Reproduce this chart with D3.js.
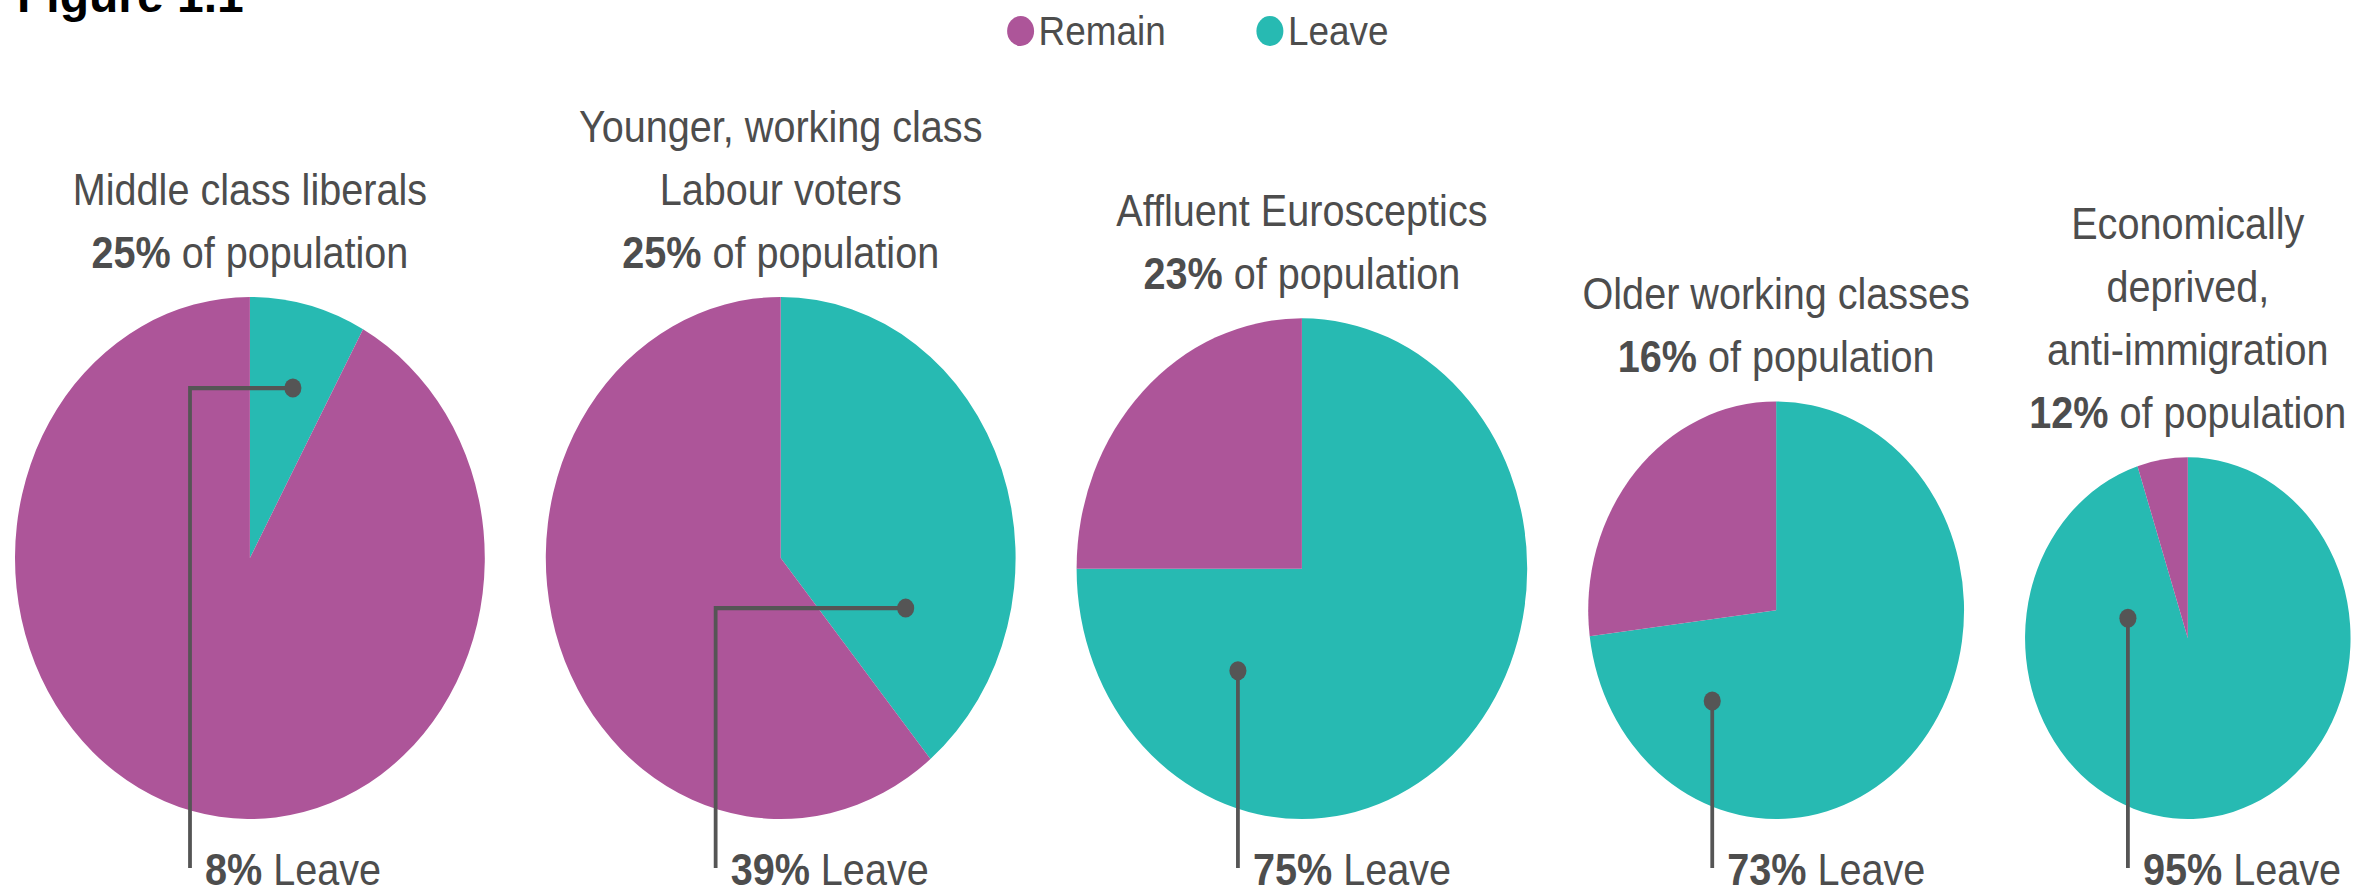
<!DOCTYPE html>
<meta charset="utf-8">
<title>EU referendum segments</title>
<style>
body { margin: 0; background: #fff; }
text { font-family: "Liberation Sans", Arial, Helvetica, sans-serif; fill: #4d4d4d; }
.leader { fill: none; stroke: #555; stroke-width: 4.2px; }
</style>
<script src="https://d3js.org/d3.v7.min.js"></script>
<body>
<script>
// data
var titles = [
  ["Middle class liberals"],
  ["Younger, working class", "Labour voters"],
  ["Affluent Eurosceptics"],
  ["Older working classes"],
  ["Economically", "deprived,", "anti-immigration"]
];
var population = [25, 25, 23, 16, 12];   // % of population
var leave = [8, 39, 75, 73, 95];         // % Leave
var seriesNames = ["Remain", "Leave"];

// where the leader dot sits, as a fraction of the radius (x, y, elbow x)
var dotPos = [
  [0.183, -0.651, -0.255],
  [0.532, 0.192, -0.277],
  [-0.284, 0.408, null],
  [-0.34, 0.435, null],
  [-0.368, -0.11, null]
];

var width = 2367;
var height = 893;
var sx = 0.9; // the original artwork is squeezed horizontally

var color = d3.scaleOrdinal()
    .domain(seriesNames)
    .range(["#ad5599", "#27bab2"]);

var r = d3.scaleSqrt()
    .domain([0, 25])
    .range([0, 261]);

var svg = d3.select("body").append("svg")
    .attr("width", width)
    .attr("height", height);

// figure number, cut off at the top of the page
svg.append("text")
    .attr("x", 17)
    .attr("y", 12)
    .attr("font-size", 48)
    .attr("font-weight", "bold")
    .style("fill", "#000")
    .text("Figure 1.1");

var g = svg.append("g")
    .attr("transform", "scale(" + sx + ",1)");

// legend
var legend = g.append("g").selectAll("g")
    .data(seriesNames)
  .enter().append("g")
    .attr("transform", function(d, i) { return "translate(" + (1134 + i * 277) + ",31)"; });
legend.append("circle")
    .attr("r", 15)
    .attr("fill", function(d) { return color(d); });
legend.append("text")
    .attr("x", 20)
    .attr("y", 14)
    .attr("font-size", 41)
    .text(function(d) { return d; });

// pies sit on a common baseline, spaced by a constant gap
var baseY = 819;
var gap = 61 / sx;
var xPos = 15 / sx;
var centers = population.map(function(p) {
  var c = xPos + r(p);
  xPos += 2 * r(p) + gap;
  return c;
});

var pie = d3.pie().sort(null).value(function(d) { return d.value; });

var groups = g.selectAll("g.seg")
    .data(population.map(function(p, i) {
      return { title: titles[i], pop: p, leave: leave[i], cx: centers[i], rad: r(p), dot: dotPos[i] };
    }))
  .enter().append("g")
    .attr("class", "seg")
    .attr("transform", function(d) { return "translate(" + d.cx + "," + (baseY - d.rad) + ")"; });

groups.selectAll("path")
    .data(function(d) {
      var arc = d3.arc().innerRadius(0).outerRadius(d.rad);
      return pie([{ name: "Leave", value: d.leave }, { name: "Remain", value: 100 - d.leave }])
        .map(function(a) { a.path = arc(a); return a; });
    })
  .enter().append("path")
    .attr("d", function(a) { return a.path; })
    .attr("fill", function(a) { return color(a.data.name); });

// titles above each pie
groups.each(function(d) {
  var sel = d3.select(this);
  var lines = d.title.length + 1;
  var lastY = -d.rad - 29;
  d.title.forEach(function(t, i) {
    sel.append("text")
        .attr("text-anchor", "middle")
        .attr("y", lastY - (lines - 1 - i) * 63)
        .attr("font-size", 44)
        .text(t);
  });
  var pt = sel.append("text")
      .attr("text-anchor", "middle")
      .attr("y", lastY)
      .attr("font-size", 44);
  pt.append("tspan").attr("font-weight", "bold").text(d.pop + "%");
  pt.append("tspan").text(" of population");
});

// leader lines and Leave labels
groups.each(function(d) {
  var sel = d3.select(this);
  var dx = d.dot[0] * d.rad, dy = d.dot[1] * d.rad;
  var lx = d.dot[2] == null ? dx : d.dot[2] * d.rad;
  var bottom = baseY - d.rad;
  var pts = [[dx, dy], [lx, dy], [lx, 868 - bottom]];
  sel.append("path")
      .attr("class", "leader")
      .attr("d", d3.line()(pts));
  sel.append("circle")
      .attr("cx", dx)
      .attr("cy", dy)
      .attr("r", 9.5)
      .attr("fill", "#555");
  var lt = sel.append("text")
      .attr("x", lx + 15 / sx)
      .attr("y", 885 - bottom)
      .attr("font-size", 44);
  lt.append("tspan").attr("font-weight", "bold").text(d.leave + "%");
  lt.append("tspan").text(" Leave");
});
</script>
